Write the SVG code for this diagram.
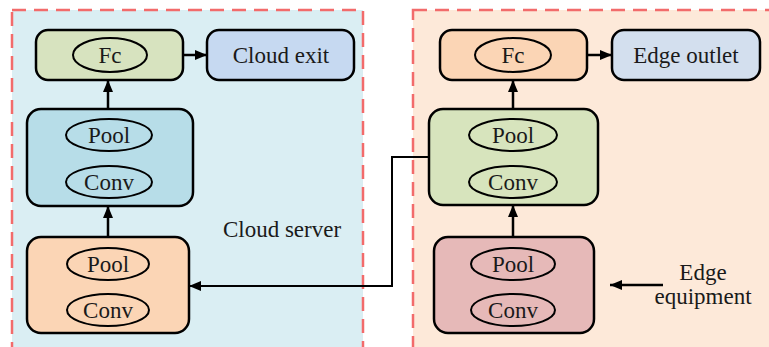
<svg xmlns="http://www.w3.org/2000/svg" width="769" height="347" viewBox="0 0 769 347">
<style>
.panel{stroke:#f26b6b;stroke-width:2.5;stroke-dasharray:14 8}
.box{stroke:#000;stroke-width:2.5}
.ell{fill:none;stroke:#000;stroke-width:2}
.conn{fill:none;stroke:#000;stroke-width:2.5}
</style>
<defs>
<marker id="ah" viewBox="0 0 12 10" refX="12" refY="5" markerWidth="12" markerHeight="10" markerUnits="userSpaceOnUse" orient="auto">
<path d="M0,0 L12,5 L0,10 Z" fill="#000"/>
</marker>
</defs>
<rect width="769" height="347" fill="#fff"/>
<g font-family="Liberation Serif, serif" font-size="23" fill="#1a1a1a" text-anchor="middle">
<g id="cloud-panel">
<rect class="panel" x="12" y="10" width="351" height="350" fill="#daeef3"/>
<text x="282" y="237" style="font-family:'Liberation Serif',serif">Cloud server</text>
</g>
<g id="edge-panel">
<rect class="panel" x="413" y="10" width="370" height="350" fill="#fde9d9"/>
<text x="703" y="280" style="font-family:'Liberation Serif',serif">Edge</text>
<text x="703" y="304" style="font-family:'Liberation Serif',serif">equipment</text>
</g>
<g id="cloud-fc">
<rect class="box" x="36" y="30" width="147" height="50" rx="12" fill="#d7e3bf"/>
<ellipse class="ell" cx="110" cy="55" rx="37" ry="17"/>
<text x="110" y="63" style="font-family:'Liberation Serif',serif">Fc</text>
</g>
<g id="cloud-exit">
<rect class="box" x="207" y="30" width="147" height="50" rx="12" fill="#c6d9f1"/>
<text x="281" y="63" style="font-family:'Liberation Serif',serif">Cloud exit</text>
</g>
<g id="cloud-block2">
<rect class="box" x="27" y="109" width="166" height="97" rx="14" fill="#b7dde8"/>
<ellipse class="ell" cx="109" cy="135" rx="43" ry="16"/>
<text x="109" y="143" style="font-family:'Liberation Serif',serif">Pool</text>
<ellipse class="ell" cx="109" cy="182" rx="43" ry="16"/>
<text x="109" y="190" style="font-family:'Liberation Serif',serif">Conv</text>
</g>
<g id="cloud-block1">
<rect class="box" x="27" y="237" width="162" height="96" rx="14" fill="#fbd5b5"/>
<ellipse class="ell" cx="108" cy="264" rx="41" ry="16"/>
<text x="108" y="272" style="font-family:'Liberation Serif',serif">Pool</text>
<ellipse class="ell" cx="108" cy="310" rx="41" ry="16"/>
<text x="108" y="318" style="font-family:'Liberation Serif',serif">Conv</text>
</g>
<g id="edge-fc">
<rect class="box" x="440" y="30" width="147" height="50" rx="12" fill="#fbd5b5"/>
<ellipse class="ell" cx="513" cy="55" rx="38" ry="17"/>
<text x="513" y="63" style="font-family:'Liberation Serif',serif">Fc</text>
</g>
<g id="edge-outlet">
<rect class="box" x="612" y="30" width="148" height="50" rx="12" fill="#d3dfee"/>
<text x="686" y="63" style="font-family:'Liberation Serif',serif">Edge outlet</text>
</g>
<g id="edge-block2">
<rect class="box" x="429" y="109" width="169" height="96" rx="14" fill="#d7e4bd"/>
<ellipse class="ell" cx="513" cy="135" rx="44" ry="16"/>
<text x="513" y="143" style="font-family:'Liberation Serif',serif">Pool</text>
<ellipse class="ell" cx="513" cy="182" rx="44" ry="16"/>
<text x="513" y="190" style="font-family:'Liberation Serif',serif">Conv</text>
</g>
<g id="edge-block1">
<rect class="box" x="434" y="237" width="160" height="96" rx="14" fill="#e6b9b8"/>
<ellipse class="ell" cx="513" cy="264" rx="42" ry="16"/>
<text x="513" y="272" style="font-family:'Liberation Serif',serif">Pool</text>
<ellipse class="ell" cx="513" cy="310" rx="42" ry="16"/>
<text x="513" y="318" style="font-family:'Liberation Serif',serif">Conv</text>
</g>
</g>
<g id="connectors">
<path class="conn" d="M183,55 L207,55" marker-end="url(#ah)"/>
<path class="conn" d="M108,109 L108,80" marker-end="url(#ah)"/>
<path class="conn" d="M108,237 L108,206" marker-end="url(#ah)"/>
<path class="conn" d="M587,55 L612,55" marker-end="url(#ah)"/>
<path class="conn" d="M513,109 L513,80" marker-end="url(#ah)"/>
<path class="conn" d="M513,237 L513,205" marker-end="url(#ah)"/>
<path class="conn" style="stroke-width:2" d="M429,157 L392,157 L392,286 L189,286" marker-end="url(#ah)"/>
<path class="conn" d="M663,285 L610,285" marker-end="url(#ah)"/>
</g>
</svg>
